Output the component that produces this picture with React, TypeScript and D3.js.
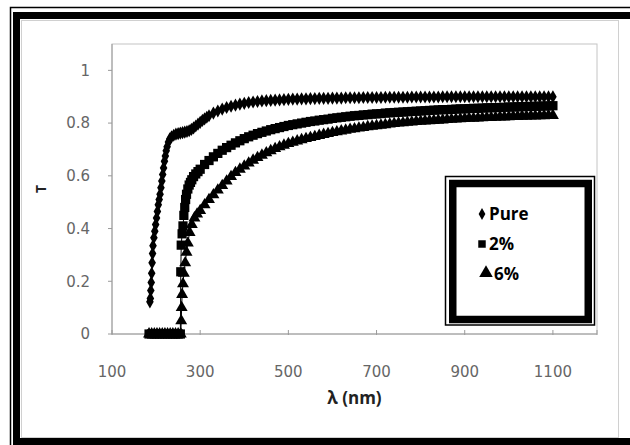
import React from 'react';
import * as d3 from 'd3';

// wavelength (nm), transmittance
const pure: [number, number][] = [
  [186, 0.122], [187, 0.135], [188, 0.165], [189, 0.195], [190, 0.23], [191, 0.27], [192, 0.305],
  [193, 0.335], [195, 0.365], [197, 0.39], [199, 0.415], [201, 0.44], [203, 0.465], [205, 0.49],
  [207, 0.51], [209, 0.53], [211, 0.555], [213, 0.58], [215, 0.605], [217, 0.63], [219, 0.655],
  [221, 0.675], [223, 0.695], [225, 0.71], [228, 0.728], [231, 0.74], [235, 0.748], [240, 0.754],
  [245, 0.758], [250, 0.76], [255, 0.762], [260, 0.764], [265, 0.766], [270, 0.768], [275, 0.771],
  [280, 0.776], [285, 0.782], [290, 0.789], [295, 0.796], [300, 0.803], [305, 0.81], [310, 0.816],
  [315, 0.822], [320, 0.828], [330, 0.838], [340, 0.846], [350, 0.853], [360, 0.859], [370, 0.864],
  [380, 0.868], [390, 0.872], [400, 0.875], [410, 0.878], [420, 0.88], [430, 0.882], [440, 0.884],
  [450, 0.885], [460, 0.886], [470, 0.887], [480, 0.888], [490, 0.889], [500, 0.89], [510, 0.891],
  [520, 0.891], [530, 0.892], [540, 0.892], [550, 0.893], [560, 0.893], [570, 0.894], [580, 0.894],
  [590, 0.894], [600, 0.895], [610, 0.895], [620, 0.895], [630, 0.896], [640, 0.896], [650, 0.896],
  [660, 0.896], [670, 0.897], [680, 0.897], [690, 0.897], [700, 0.897], [710, 0.897], [720, 0.898],
  [730, 0.898], [740, 0.898], [750, 0.898], [760, 0.898], [770, 0.898], [780, 0.899], [790, 0.899],
  [800, 0.899], [810, 0.899], [820, 0.899], [830, 0.899], [840, 0.899], [850, 0.9], [860, 0.9],
  [870, 0.9], [880, 0.9], [890, 0.9], [900, 0.9], [910, 0.9], [920, 0.9], [930, 0.9], [940, 0.9],
  [950, 0.9], [960, 0.9], [970, 0.9], [980, 0.9], [990, 0.9], [1000, 0.9], [1010, 0.9], [1020, 0.9],
  [1030, 0.9], [1040, 0.9], [1050, 0.9], [1060, 0.9], [1070, 0.9], [1080, 0.9], [1090, 0.9], [1100, 0.9],
];

const dope2: [number, number][] = [
  [184, 0], [190, 0], [196, 0], [202, 0], [208, 0], [214, 0], [220, 0], [226, 0], [232, 0], [238, 0],
  [244, 0], [250, 0], [255, 0], [256, 0.236], [257, 0.337], [259, 0.38], [261, 0.41], [263, 0.45],
  [265, 0.48], [267, 0.51], [269, 0.53], [272, 0.55], [275, 0.565], [278, 0.575], [281, 0.585],
  [285, 0.597], [290, 0.607], [295, 0.616], [300, 0.625], [310, 0.643], [320, 0.658], [330, 0.672],
  [340, 0.685], [350, 0.697], [360, 0.707], [370, 0.716], [380, 0.725], [390, 0.733], [400, 0.741],
  [410, 0.748], [420, 0.754], [430, 0.76], [440, 0.765], [450, 0.77], [460, 0.775], [470, 0.779],
  [480, 0.783], [490, 0.787], [500, 0.791], [510, 0.794], [520, 0.797], [530, 0.8], [540, 0.803],
  [550, 0.806], [560, 0.808], [570, 0.811], [580, 0.813], [590, 0.815], [600, 0.818], [610, 0.82],
  [620, 0.822], [630, 0.824], [640, 0.826], [650, 0.828], [660, 0.829], [670, 0.831], [680, 0.832],
  [690, 0.834], [700, 0.835], [710, 0.836], [720, 0.838], [730, 0.839], [740, 0.84], [750, 0.841],
  [760, 0.842], [770, 0.843], [780, 0.844], [790, 0.845], [800, 0.846], [810, 0.847], [820, 0.848],
  [830, 0.849], [840, 0.85], [850, 0.851], [860, 0.851], [870, 0.852], [880, 0.853], [890, 0.854],
  [900, 0.854], [910, 0.855], [920, 0.856], [930, 0.856], [940, 0.857], [950, 0.858], [960, 0.858],
  [970, 0.859], [980, 0.859], [990, 0.86], [1000, 0.861], [1010, 0.861], [1020, 0.862], [1030, 0.862],
  [1040, 0.863], [1050, 0.863], [1060, 0.864], [1070, 0.864], [1080, 0.865], [1090, 0.865], [1100, 0.866],
];

const dope6: [number, number][] = [
  [184, 0], [190, 0], [196, 0], [202, 0], [208, 0], [214, 0], [220, 0], [226, 0], [232, 0], [238, 0],
  [244, 0], [250, 0], [256, 0], [257, 0.05], [258, 0.1], [259, 0.15], [261, 0.19], [263, 0.23],
  [266, 0.27], [269, 0.31], [272, 0.345], [276, 0.385], [281, 0.415], [287, 0.44], [293, 0.455],
  [300, 0.468], [310, 0.49], [320, 0.51], [330, 0.528], [340, 0.546], [350, 0.563], [360, 0.58],
  [370, 0.597], [380, 0.612], [390, 0.625], [400, 0.637], [410, 0.648], [420, 0.659], [430, 0.669],
  [440, 0.678], [450, 0.687], [460, 0.695], [470, 0.703], [480, 0.71], [490, 0.716], [500, 0.722],
  [510, 0.727], [520, 0.732], [530, 0.737], [540, 0.741], [550, 0.745], [560, 0.749], [570, 0.753],
  [580, 0.757], [590, 0.76], [600, 0.764], [610, 0.767], [620, 0.77], [630, 0.773], [640, 0.776],
  [650, 0.778], [660, 0.781], [670, 0.783], [680, 0.786], [690, 0.788], [700, 0.79], [710, 0.792],
  [720, 0.794], [730, 0.796], [740, 0.798], [750, 0.8], [760, 0.801], [770, 0.803], [780, 0.804],
  [790, 0.806], [800, 0.807], [810, 0.808], [820, 0.809], [830, 0.81], [840, 0.811], [850, 0.812],
  [860, 0.813], [870, 0.814], [880, 0.815], [890, 0.816], [900, 0.817], [910, 0.818], [920, 0.818],
  [930, 0.819], [940, 0.82], [950, 0.821], [960, 0.821], [970, 0.822], [980, 0.823], [990, 0.823],
  [1000, 0.824], [1010, 0.825], [1020, 0.825], [1030, 0.826], [1040, 0.826], [1050, 0.827],
  [1060, 0.827], [1070, 0.828], [1080, 0.828], [1090, 0.829], [1100, 0.829],
];

const xTicks = [100, 300, 500, 700, 900, 1100];
const yTicks = [0, 0.2, 0.4, 0.6, 0.8, 1];
const legendNames = ['Pure', '2%', '6%'];

const W = 630;
const H = 445;
const plot = { left: 112, right: 597, top: 44, bottom: 334 };

const x = d3.scaleLinear().domain([100, 1200]).range([plot.left, plot.right]);
const y = d3.scaleLinear().domain([0, 1.1]).range([plot.bottom, plot.top]);

const line = d3.line<[number, number]>().x(d => x(d[0])).y(d => y(d[1]));

// excel-like markers, big enough that they merge into a band
const diamond = d3.symbol().type(d3.symbolDiamond).size(50)()!;
const square = d3.symbol().type(d3.symbolSquare).size(85)()!;
const triangle = d3.symbol().type(d3.symbolTriangle).size(62)()!;

const series = [
  { data: dope6, mark: triangle },
  { data: dope2, mark: square },
  { data: pure, mark: diamond },
];

const legendMarks = [
  d3.symbol().type(d3.symbolDiamond).size(40)()!,
  d3.symbol().type(d3.symbolSquare).size(56)()!,
  d3.symbol().type(d3.symbolTriangle).size(80)()!,
];

export default function App() {
  return (
    <div style={{ position: 'absolute', left: 0, top: 0 }}>
      <svg width={W} height={H} style={{ display: 'block', background: '#fff' }}>
        {/* outer frame */}
        <rect x={10.5} y={7.5} width={640} height={460} fill="none" stroke="#000" strokeWidth={1.5} />
        <rect x={16.5} y={15.5} width={640} height={426} fill="none" stroke="#000" strokeWidth={7} />
        <rect x={21.5} y={20.5} width={597} height={417} fill="none" stroke="#d0d0d0" strokeWidth={1} />

        {/* plot area */}
        <rect x={plot.left} y={plot.top} width={plot.right - plot.left} height={plot.bottom - plot.top}
          fill="none" stroke="#c4c4c4" strokeWidth={1} />
        <line x1={plot.left} x2={plot.right} y1={plot.bottom} y2={plot.bottom} stroke="#9a9a9a" />
        <line x1={plot.left} x2={plot.left} y1={plot.top} y2={plot.bottom} stroke="#9a9a9a" />

        {yTicks.map(t => (
          <g key={'y' + t}>
            <line x1={plot.left - 4} x2={plot.left} y1={y(t)} y2={y(t)} stroke="#9a9a9a" />
            <text x={90} y={y(t)} dy="0.36em" textAnchor="end" fontFamily="DejaVu Sans" fontSize={15}
              fill="#666">{String(t)}</text>
          </g>
        ))}
        {xTicks.map(t => (
          <g key={'x' + t}>
            <line x1={x(t)} x2={x(t)} y1={plot.bottom - 4} y2={plot.bottom + 1} stroke="#9a9a9a" />
            <text x={x(t)} y={377} textAnchor="middle" fontFamily="DejaVu Sans" fontSize={15}
              fill="#666">{String(t)}</text>
          </g>
        ))}
        <line x1={plot.right} x2={plot.right} y1={plot.bottom - 4} y2={plot.bottom + 1} stroke="#9a9a9a" />

        <text x={(plot.left + plot.right) / 2} y={404} textAnchor="middle" fontFamily="Open Sans"
          fontWeight="bold" fontSize={17} fill="#222">λ (nm)</text>
        <text transform={`translate(46, 189) rotate(-90)`} textAnchor="middle" fontFamily="Open Sans"
          fontWeight="bold" fontSize={14} fill="#222">T</text>

        {/* series */}
        {series.map((s, i) => (
          <g key={'s' + i}>
            <path d={line(s.data) ?? ''} fill="none" stroke="#000" strokeWidth={1} />
            {s.data.map((d, j) => (
              <path key={j} d={s.mark} transform={`translate(${x(d[0])},${y(d[1])})`} fill="#000" />
            ))}
          </g>
        ))}

        {/* legend */}
        <rect x={445.5} y={176.5} width={149} height={148.5} fill="#fff" stroke="#000" strokeWidth={1.5} />
        <rect x={452.75} y={183.5} width={135.5} height={136} fill="#fff" stroke="#000" strokeWidth={7.5} />
        {legendNames.map((n, i) => (
          <g key={n}>
            <path d={legendMarks[i]} transform={`translate(${i === 2 ? 486 : 482},${214 + i * 30 - (i === 2 ? 1 : 0)})`} fill="#000" />
            <text x={i === 2 ? 494 : 489} y={220 + i * 30} fontFamily="Open Sans" fontWeight="bold"
              fontSize={17} fill="#000">{n}</text>
          </g>
        ))}
      </svg>
    </div>
  );
}
